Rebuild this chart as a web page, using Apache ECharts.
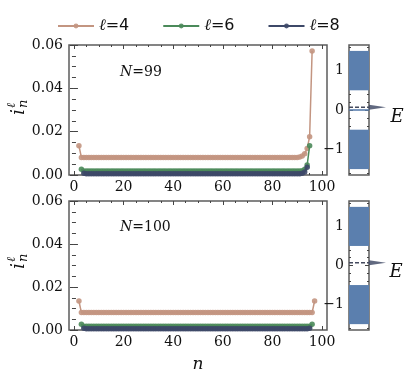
<!DOCTYPE html>
<html>
<head>
<meta charset="utf-8">
<script src="https://cdn.jsdelivr.net/npm/echarts@6/dist/echarts.min.js"></script>
<style>
html,body{margin:0;padding:0;background:#fff;}
#c{width:405px;height:376px;}
</style>
</head>
<body>
<div id="c"></div>
<script>
// ---------------- data ----------------
const seriesNames = ['ℓ=4', 'ℓ=6', 'ℓ=8'];
const nStart = [2, 3, 4];           // first site index n of each series
const xTickLabels = [0, 20, 40, 60, 80, 100];
const eTickLabels = [-1, 0, 1];

// N = 99
const l4N99 = [0.0135,
  0.0081,0.0081,0.0081,0.0081,0.0081,0.0081,0.0081,0.0081,0.0081,0.0081,
  0.0081,0.0081,0.0081,0.0081,0.0081,0.0081,0.0081,0.0081,0.0081,0.0081,
  0.0081,0.0081,0.0081,0.0081,0.0081,0.0081,0.0081,0.0081,0.0081,0.0081,
  0.0081,0.0081,0.0081,0.0081,0.0081,0.0081,0.0081,0.0081,0.0081,0.0081,
  0.0081,0.0081,0.0081,0.0081,0.0081,0.0081,0.0081,0.0081,0.0081,0.0081,
  0.0081,0.0081,0.0081,0.0081,0.0081,0.0081,0.0081,0.0081,0.0081,0.0081,
  0.0081,0.0081,0.0081,0.0081,0.0081,0.0081,0.0081,0.0081,0.0081,0.0081,
  0.0081,0.0081,0.0081,0.0081,0.0081,0.0081,0.0081,0.0081,0.0081,0.0081,
  0.0081,0.0081,0.0081,0.0081,0.0081,0.0081,0.0081,0.0081,
  0.0083,0.0088,0.0098,0.0122,0.0177,0.0572];
const l6N99 = [0.0027,
  0.0018,0.0018,0.0018,0.0018,0.0018,0.0018,0.0018,0.0018,0.0018,0.0018,
  0.0018,0.0018,0.0018,0.0018,0.0018,0.0018,0.0018,0.0018,0.0018,0.0018,
  0.0018,0.0018,0.0018,0.0018,0.0018,0.0018,0.0018,0.0018,0.0018,0.0018,
  0.0018,0.0018,0.0018,0.0018,0.0018,0.0018,0.0018,0.0018,0.0018,0.0018,
  0.0018,0.0018,0.0018,0.0018,0.0018,0.0018,0.0018,0.0018,0.0018,0.0018,
  0.0018,0.0018,0.0018,0.0018,0.0018,0.0018,0.0018,0.0018,0.0018,0.0018,
  0.0018,0.0018,0.0018,0.0018,0.0018,0.0018,0.0018,0.0018,0.0018,0.0018,
  0.0018,0.0018,0.0018,0.0018,0.0018,0.0018,0.0018,0.0018,0.0018,0.0018,
  0.0018,0.0018,0.0018,0.0018,0.0018,0.0018,0.0018,0.0018,
  0.0020,0.0026,0.0046,0.0135];
const l8N99 = [0.0008,
  0.0006,0.0006,0.0006,0.0006,0.0006,0.0006,0.0006,0.0006,0.0006,0.0006,
  0.0006,0.0006,0.0006,0.0006,0.0006,0.0006,0.0006,0.0006,0.0006,0.0006,
  0.0006,0.0006,0.0006,0.0006,0.0006,0.0006,0.0006,0.0006,0.0006,0.0006,
  0.0006,0.0006,0.0006,0.0006,0.0006,0.0006,0.0006,0.0006,0.0006,0.0006,
  0.0006,0.0006,0.0006,0.0006,0.0006,0.0006,0.0006,0.0006,0.0006,0.0006,
  0.0006,0.0006,0.0006,0.0006,0.0006,0.0006,0.0006,0.0006,0.0006,0.0006,
  0.0006,0.0006,0.0006,0.0006,0.0006,0.0006,0.0006,0.0006,0.0006,0.0006,
  0.0006,0.0006,0.0006,0.0006,0.0006,0.0006,0.0006,0.0006,0.0006,0.0006,
  0.0006,0.0006,0.0006,0.0006,0.0006,0.0006,0.0006,
  0.0008,0.0014,0.0036];

// N = 100
const l4N100 = [0.0135,
  0.0081,0.0081,0.0081,0.0081,0.0081,0.0081,0.0081,0.0081,0.0081,0.0081,
  0.0081,0.0081,0.0081,0.0081,0.0081,0.0081,0.0081,0.0081,0.0081,0.0081,
  0.0081,0.0081,0.0081,0.0081,0.0081,0.0081,0.0081,0.0081,0.0081,0.0081,
  0.0081,0.0081,0.0081,0.0081,0.0081,0.0081,0.0081,0.0081,0.0081,0.0081,
  0.0081,0.0081,0.0081,0.0081,0.0081,0.0081,0.0081,0.0081,0.0081,0.0081,
  0.0081,0.0081,0.0081,0.0081,0.0081,0.0081,0.0081,0.0081,0.0081,0.0081,
  0.0081,0.0081,0.0081,0.0081,0.0081,0.0081,0.0081,0.0081,0.0081,0.0081,
  0.0081,0.0081,0.0081,0.0081,0.0081,0.0081,0.0081,0.0081,0.0081,0.0081,
  0.0081,0.0081,0.0081,0.0081,0.0081,0.0081,0.0081,0.0081,0.0081,0.0081,
  0.0081,0.0081,0.0081,0.0081,
  0.0135];
const l6N100 = [0.0027,
  0.0018,0.0018,0.0018,0.0018,0.0018,0.0018,0.0018,0.0018,0.0018,0.0018,
  0.0018,0.0018,0.0018,0.0018,0.0018,0.0018,0.0018,0.0018,0.0018,0.0018,
  0.0018,0.0018,0.0018,0.0018,0.0018,0.0018,0.0018,0.0018,0.0018,0.0018,
  0.0018,0.0018,0.0018,0.0018,0.0018,0.0018,0.0018,0.0018,0.0018,0.0018,
  0.0018,0.0018,0.0018,0.0018,0.0018,0.0018,0.0018,0.0018,0.0018,0.0018,
  0.0018,0.0018,0.0018,0.0018,0.0018,0.0018,0.0018,0.0018,0.0018,0.0018,
  0.0018,0.0018,0.0018,0.0018,0.0018,0.0018,0.0018,0.0018,0.0018,0.0018,
  0.0018,0.0018,0.0018,0.0018,0.0018,0.0018,0.0018,0.0018,0.0018,0.0018,
  0.0018,0.0018,0.0018,0.0018,0.0018,0.0018,0.0018,0.0018,0.0018,0.0018,
  0.0018,0.0018,
  0.0027];
const l8N100 = [0.0008,
  0.0006,0.0006,0.0006,0.0006,0.0006,0.0006,0.0006,0.0006,0.0006,0.0006,
  0.0006,0.0006,0.0006,0.0006,0.0006,0.0006,0.0006,0.0006,0.0006,0.0006,
  0.0006,0.0006,0.0006,0.0006,0.0006,0.0006,0.0006,0.0006,0.0006,0.0006,
  0.0006,0.0006,0.0006,0.0006,0.0006,0.0006,0.0006,0.0006,0.0006,0.0006,
  0.0006,0.0006,0.0006,0.0006,0.0006,0.0006,0.0006,0.0006,0.0006,0.0006,
  0.0006,0.0006,0.0006,0.0006,0.0006,0.0006,0.0006,0.0006,0.0006,0.0006,
  0.0006,0.0006,0.0006,0.0006,0.0006,0.0006,0.0006,0.0006,0.0006,0.0006,
  0.0006,0.0006,0.0006,0.0006,0.0006,0.0006,0.0006,0.0006,0.0006,0.0006,
  0.0006,0.0006,0.0006,0.0006,0.0006,0.0006,0.0006,0.0006,0.0006,0.0006,
  0.0008];

// energy spectra (bands as [Emin, Emax]) and isolated levels
const bandsN99 = [[0.5, 1.5], [-1.5, -0.5]];
const levelsN99 = [0];
const bandsN100 = [[0.5, 1.5], [-1.5, -0.5]];
const levelsN100 = [];
const eMarker = 0.07;
const panelLabels = ['99', '100'];

// ---------------- styling ----------------
const colors = ['#c39581', '#4b8a5a', '#3d4868'];
const bandColor = '#5b7fae';
const frameColor = '#5c5c5c';
const tickColor = '#444';
const serif = '"DejaVu Serif", serif';
const labelFont = {fontFamily: serif, fontSize: 14, color: '#111'};

const toXY = (start, arr) => arr.map((v, i) => [start + i, v]);

const grids = [
  {left: 69, top: 45, width: 258, height: 130},
  {left: 69, top: 201, width: 258, height: 129},
  {left: 349, top: 45, width: 20, height: 130},
  {left: 349, top: 201, width: 20, height: 129}
].map(g => Object.assign({show: true, borderColor: frameColor, borderWidth: 1.5, backgroundColor: 'transparent'}, g));

const minorX = [];
for (let v = 5; v < 100; v += 5) if (v % 20) minorX.push(v);
const minorE = [-1.6,-1.4,-1.2,-0.8,-0.6,-0.4,-0.2,0.2,0.4,0.6,0.8,1.2,1.4,1.6];

function mainX(gridIndex, withName) {
  const base = {type: 'value', gridIndex, min: -2, max: 102, splitLine: {show: false}, axisLine: {show: false}};
  return [
    Object.assign({}, base, {position: 'bottom',
      axisTick: {inside: true, length: 4, customValues: xTickLabels, lineStyle: {color: tickColor}},
      axisLabel: Object.assign({customValues: xTickLabels, margin: 5}, labelFont),
      name: withName ? 'n' : '', nameLocation: 'middle', nameGap: 26,
      nameTextStyle: {fontFamily: serif, fontStyle: 'italic', fontSize: 17, color: '#111'}}),
    Object.assign({}, base, {position: 'bottom',
      axisTick: {inside: true, length: 2, customValues: minorX, lineStyle: {color: tickColor}},
      axisLabel: {show: false}}),
    Object.assign({}, base, {position: 'top',
      axisTick: {inside: true, length: 4, customValues: xTickLabels, lineStyle: {color: tickColor}},
      axisLabel: {show: false}}),
    Object.assign({}, base, {position: 'top',
      axisTick: {inside: true, length: 2, customValues: minorX, lineStyle: {color: tickColor}},
      axisLabel: {show: false}})
  ];
}
function mainY(gridIndex) {
  const base = {type: 'value', gridIndex, min: 0, max: 0.06, interval: 0.02, splitLine: {show: false},
    axisLine: {show: false},
    axisTick: {inside: true, length: 4, lineStyle: {color: tickColor}},
    minorTick: {show: true, splitNumber: 4, length: 2, lineStyle: {color: tickColor}}};
  return [
    Object.assign({}, base, {position: 'left',
      axisLabel: Object.assign({margin: 6, formatter: v => v.toFixed(2)}, labelFont)}),
    Object.assign({}, base, {position: 'right', axisLabel: {show: false}})
  ];
}
function eX(gridIndex) {
  return {type: 'value', gridIndex, min: 0, max: 1, show: false};
}
function eY(gridIndex) {
  const base = {type: 'value', gridIndex, min: -1.65, max: 1.65, splitLine: {show: false}, axisLine: {show: false}};
  return [
    Object.assign({}, base, {position: 'left',
      axisTick: {inside: true, length: 4, customValues: eTickLabels, lineStyle: {color: tickColor}},
      axisLabel: Object.assign({customValues: eTickLabels, margin: 5,
        formatter: v => v < 0 ? '\u2212' + Math.abs(v) : String(v)}, labelFont)}),
    Object.assign({}, base, {position: 'left',
      axisTick: {inside: true, length: 2, customValues: minorE, lineStyle: {color: tickColor}},
      axisLabel: {show: false}}),
    Object.assign({}, base, {position: 'right',
      axisTick: {inside: true, length: 4, customValues: eTickLabels, lineStyle: {color: tickColor}},
      axisLabel: {show: false}}),
    Object.assign({}, base, {position: 'right',
      axisTick: {inside: true, length: 2, customValues: minorE, lineStyle: {color: tickColor}},
      axisLabel: {show: false}})
  ];
}

const xAxes = [...mainX(0, false), ...mainX(1, true), eX(2), eX(3)];
const yAxes = [...mainY(0), ...mainY(1), ...eY(2), ...eY(3)];
// indices
const XI = {top: 0, bot: 4, eTop: 8, eBot: 9};
const YI = {top: 0, bot: 2, eTop: 4, eBot: 8};

function curveSeries(xi, yi, sets) {
  return sets.map((arr, k) => ({
    type: 'line', name: seriesNames[k], xAxisIndex: xi, yAxisIndex: yi,
    data: toXY(nStart[k], arr), symbol: 'circle', symbolSize: 5.5, showSymbol: true, showAllSymbol: true,
    lineStyle: {width: 1.5, color: colors[k]},
    itemStyle: {color: colors[k], opacity: 0.9},
    z: 3 + k, animation: false
  }));
}

function spectrumSeries(xi, yi, bands, levels) {
  return [
    {type: 'custom', xAxisIndex: xi, yAxisIndex: yi, data: bands, z: 2, animation: false,
      renderItem: (params, api) => {
        const p1 = api.coord([0, api.value(1)]);
        const p2 = api.coord([1, api.value(0)]);
        return {type: 'rect', shape: {x: p1[0], y: p1[1], width: p2[0] - p1[0], height: p2[1] - p1[1]},
          style: {fill: bandColor}};
      }},
    {type: 'custom', xAxisIndex: xi, yAxisIndex: yi, data: levels.map(v => [v]), z: 2, animation: false,
      renderItem: (params, api) => {
        const p1 = api.coord([0, api.value(0)]);
        const p2 = api.coord([1, api.value(0)]);
        return {type: 'line', shape: {x1: p1[0], y1: p1[1], x2: p2[0], y2: p2[1]},
          style: {stroke: bandColor, lineWidth: 1.6}};
      }},
    {type: 'line', xAxisIndex: xi, yAxisIndex: yi, data: [[0, eMarker], [1, eMarker]],
      symbol: 'none', lineStyle: {type: [4, 2], width: 1.6, color: '#444a5e'}, z: 4, animation: false, silent: true},
    {type: 'scatter', xAxisIndex: xi, yAxisIndex: yi, data: [[1, eMarker]],
      symbol: 'path://M0,0 L17,2.5 L0,5 Z', symbolSize: [17, 5], symbolOffset: ['50%', 0],
      itemStyle: {color: '#3a4460'}, clip: false, z: 5, animation: false, silent: true}
  ];
}

const series = [
  ...curveSeries(XI.top, YI.top, [l4N99, l6N99, l8N99]),
  ...curveSeries(XI.bot, YI.bot, [l4N100, l6N100, l8N100]),
  ...spectrumSeries(XI.eTop, YI.eTop, bandsN99, levelsN99),
  ...spectrumSeries(XI.eBot, YI.eBot, bandsN100, levelsN100)
];

function yName(cx, cy) {
  return {type: 'group', x: cx, y: cy, rotation: Math.PI / 2, children: [
    {type: 'text', x: -1, y: 1, style: {text: 'i', font: 'italic 19px ' + serif, fill: '#111', align: 'right', verticalAlign: 'middle'}},
    {type: 'text', x: 0, y: -6, style: {text: 'ℓ', font: 'italic 12px ' + serif, fill: '#111', align: 'left', verticalAlign: 'middle'}},
    {type: 'text', x: 0, y: 6, style: {text: 'n', font: 'italic 13px ' + serif, fill: '#111', align: 'left', verticalAlign: 'middle'}}
  ]};
}
function nLabel(x, y, txt) {
  return {type: 'text', x, y, style: {text: '{i|N}{r|=' + txt + '}', align: 'left', verticalAlign: 'middle',
    rich: {i: {fontFamily: serif, fontStyle: 'italic', fontSize: 14, fill: '#111'},
           r: {fontFamily: serif, fontSize: 14, fill: '#111'}}}};
}
function eLabel(x, y) {
  return {type: 'text', x, y, style: {text: 'E', font: 'italic 18px ' + serif, fill: '#111', align: 'center', verticalAlign: 'middle'}};
}

const option = {
  animation: false,
  backgroundColor: '#fff',
  legend: {
    data: seriesNames, left: 52, top: 13, itemWidth: 36, itemHeight: 6, itemGap: 33,
    formatter: name => '{a|ℓ}{b|' + name.slice(1) + '}',
    textStyle: {rich: {a: {fontFamily: serif, fontStyle: 'italic', fontSize: 16, color: '#111'},
                       b: {fontFamily: '"DejaVu Sans", sans-serif', fontSize: 16, color: '#111'}}}
  },
  grid: grids,
  xAxis: xAxes,
  yAxis: yAxes,
  series,
  graphic: [
    yName(18, 108), yName(18, 262),
    nLabel(120, 72, panelLabels[0]), nLabel(120, 227, panelLabels[1]),
    eLabel(397, 117), eLabel(396, 272)
  ]
};

const chart = echarts.init(document.getElementById('c'), null, {renderer: 'canvas'});
chart.setOption(option);
</script>
</body>
</html>
